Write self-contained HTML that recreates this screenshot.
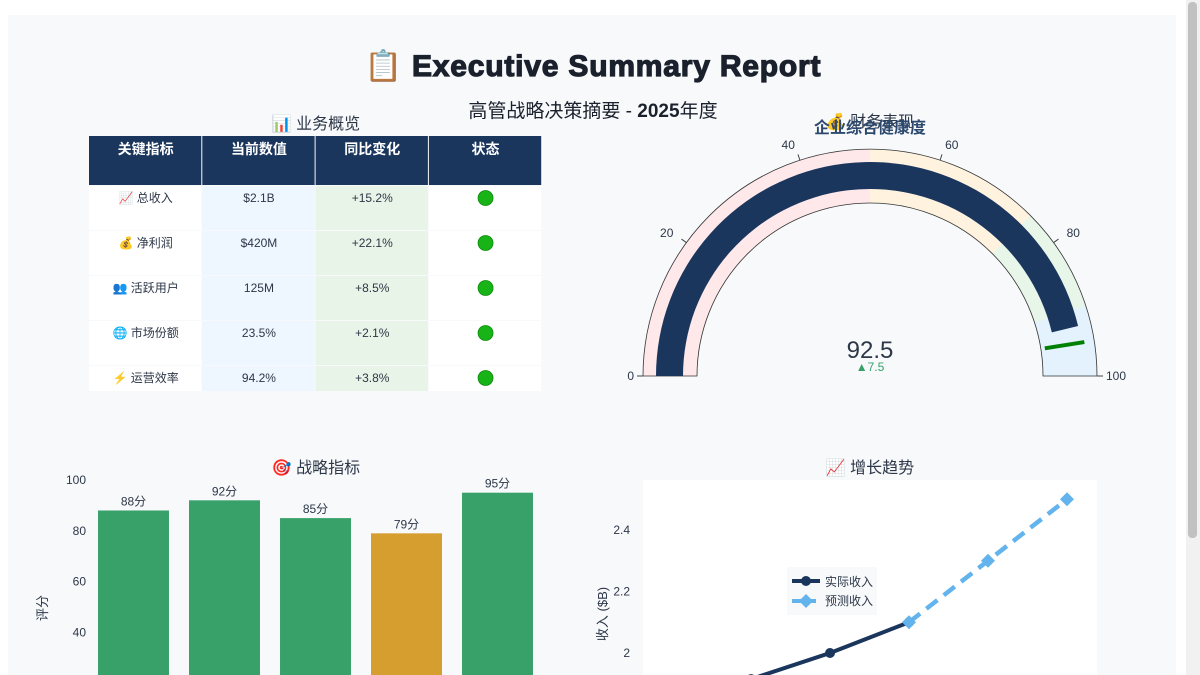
<!DOCTYPE html>
<html><head><meta charset="utf-8"><style>
html,body{margin:0;padding:0;background:#fff;width:1200px;height:675px;overflow:hidden}
svg{display:block;font-family:"Liberation Sans","Noto Sans CJK SC",sans-serif}
</style></head><body>
<svg id="s" width="1200" height="675">
<rect x="8" y="15" width="1168" height="660" fill="#f7f9fb"/>
<rect x="1186" y="0" width="14" height="675" fill="#f1f1f1"/>
<rect x="1188" y="2" width="9" height="536" rx="4" fill="#c1c1c1"/>
<text x="593" y="76" text-anchor="middle" font-size="30" font-weight="bold" fill="#1a202c" stroke="#1a202c" stroke-width="1.2" letter-spacing="0.8">📋 Executive Summary Report</text>
<text x="593" y="117" text-anchor="middle" font-size="19" fill="#1a202c">高管战略决策摘要 - <tspan font-weight="bold">2025</tspan>年度</text>
<text x="316" y="129" text-anchor="middle" font-size="16" fill="#2d3748">📊 业务概览</text>
<g id="tbl"></g>
<text x="870" y="127" text-anchor="middle" font-size="16" fill="#2d3748">💰 财务表现</text>
<text x="870" y="133" text-anchor="middle" font-size="16" font-weight="bold" fill="#2d4a6e">企业综合健康度</text>
<g id="gauge"></g>
<text x="316" y="473" text-anchor="middle" font-size="16" fill="#2d3748">🎯 战略指标</text>
<g id="bars"></g>
<text x="870" y="473" text-anchor="middle" font-size="16" fill="#2d3748">📈 增长趋势</text>
<g id="line"></g>
</svg>
<script>
const NS="http://www.w3.org/2000/svg";
function mk(p,t,a,txt){const e=document.createElementNS(NS,t);for(const k in a)e.setAttribute(k,a[k]);if(txt!=null)e.textContent=txt;p.appendChild(e);return e;}

// ---- table data
const tblHeaders=["关键指标","当前数值","同比变化","状态"];
const tblMetrics=["📈 总收入","💰 净利润","👥 活跃用户","🌐 市场份额","⚡ 运营效率"];
const tblValues=["$2.1B","$420M","125M","23.5%","94.2%"];
const tblChanges=["+15.2%","+22.1%","+8.5%","+2.1%","+3.8%"];

// ---- gauge data
const gaugeValue=92.5, gaugeDelta=7.5, gaugeThreshold=95;
const gaugeSteps=[[0,50,"#ffe8ea"],[50,75,"#fff3e0"],[75,90,"#e8f5e9"],[90,100,"#e3f2fd"]];
const gaugeTicks=[0,20,40,60,80,100];

// ---- bar data
const barCats=["A","B","C","D","E"];
const barValues=[88,92,85,79,95];
const barColors=["#38a169","#38a169","#38a169","#d69e2e","#38a169"];
const barTicks=[40,60,80,100];

// ---- line data
const lineActual=[1.915,2.0,2.1];
const lineActualIdx=[3,4,5];
const lineForecastIdx=[5,6,7];
const lineForecast=[2.1,2.3,2.5];
const lineTicks=[2,2.2,2.4];

// table
(function(){
 const g=document.getElementById('tbl');
 const x0=89,cw=113.3,hy=136,hh=49,rh=45;
 tblHeaders.forEach((h,i)=>{
  const r=mk(g,'rect',{x:x0+i*cw,y:hy,width:cw-1,height:hh,fill:'#1a365d'});
  
  
  const t=mk(g,'text',{x:x0+i*cw+cw/2,y:hy+18,'text-anchor':'middle','font-size':14,'font-weight':'bold',fill:'#fff'},h);
  
  
 });
 const fills=['#ffffff','#eef6ff','#e8f4e8','#ffffff'];
 tblMetrics.forEach((m,j)=>{
  const y=hy+hh+j*rh;
  const h=Math.min(rh-1,390-y);
  const cells=[m,tblValues[j],tblChanges[j],null];
  cells.forEach((c,i)=>{
   const r=mk(g,'rect',{x:x0+i*cw,y:y+1,width:cw-1,height:h,fill:fills[i]});
   
   
   if(c!=null){
    const t=mk(g,'text',{x:x0+i*cw+cw/2,y:y+17,'text-anchor':'middle','font-size':12,fill:'#2d3748'},c);
    
    
   } else {
    const d=mk(g,'circle',{cx:x0+i*cw+cw/2,cy:y+13,r:7.5,fill:'#17b317',stroke:'#0d8a0d','stroke-width':0.8});
    
    
   }
  });
 });
})();

// gauge
(function(){
 const g=document.getElementById('gauge');
 const cx=870,cy=376,R=227,ri=173,b1=187,b2=214;
 const pt=(v,r)=>{const a=Math.PI*(1-v/100);return [cx+r*Math.cos(a),cy-r*Math.sin(a)];};
 const arc=(v0,v1,r0,r1)=>{const a=pt(v0,r1),b=pt(v1,r1),c=pt(v1,r0),d=pt(v0,r0);
  return `M${a[0]},${a[1]} A${r1},${r1} 0 0 1 ${b[0]},${b[1]} L${c[0]},${c[1]} A${r0},${r0} 0 0 0 ${d[0]},${d[1]} Z`;};
 gaugeSteps.forEach(s=>{
  const p=mk(g,'path',{d:arc(s[0],s[1],ri,R),fill:s[2]});
  
  
 });
 const o=mk(g,'path',{d:arc(0,100,ri,R),fill:'none',stroke:'#333','stroke-width':0.8});
 
 
 const b=mk(g,'path',{d:arc(0,gaugeValue,b1,b2),fill:'#1a365d'});
 
 
 const t0=pt(gaugeThreshold,ri+4),t1=pt(gaugeThreshold,R-10);
 const th=mk(g,'line',{x1:t0[0],y1:t0[1],x2:t1[0],y2:t1[1],stroke:'#008000','stroke-width':4});
 
 
 gaugeTicks.forEach(v=>{
  const a=pt(v,R),c=pt(v,R+6),l=pt(v,R+16);
  const tk=mk(g,'line',{x1:a[0],y1:a[1],x2:c[0],y2:c[1],stroke:'#444','stroke-width':1});
  
  
  const anc=v<50?'end':v>50?'start':'middle';
  const tl=mk(g,'text',{x:v==0?a[0]-9:v==100?a[0]+9:l[0],y:l[1]+4,'text-anchor':anc,'font-size':12,fill:'#2d3748'},String(v));
  
  
 });
 const vt=mk(g,'text',{x:cx,y:358,'text-anchor':'middle','font-size':24,fill:'#2d3748'},String(gaugeValue));
 
 
 const dt=mk(g,'text',{x:cx,y:371,'text-anchor':'middle','font-size':12,fill:'#38a169'},'▲'+gaugeDelta);
 
 
})();

// bars
(function(){
 const g=document.getElementById('bars');
 const X0=88,X1=543;
 const yy=v=>480+(100-v)*2.54;
 const band=(X1-X0)/barCats.length;
 barTicks.forEach(v=>{
  const t=mk(g,'text',{x:86,y:yy(v)+4,'text-anchor':'end','font-size':12,fill:'#2d3748'},String(v));
  
  
 });
 const yt=mk(g,'text',{x:47,y:608,'text-anchor':'middle','font-size':13,fill:'#2d3748',transform:'rotate(-90 47 608)'},'评分');
 
 
 barValues.forEach((v,i)=>{
  const w=band*0.78,x=X0+band*i+(band-w)/2,top=yy(v);
  const r=mk(g,'rect',{x:x,y:top,width:w,height:675-top,fill:barColors[i]});
  
  
  const l=mk(g,'text',{x:x+w/2,y:top-5,'text-anchor':'middle','font-size':12,fill:'#2d3748'},v+'分');
  
  
 });
})();

// line
(function(){
 const g=document.getElementById('line');
 const bg=mk(g,'rect',{x:643,y:480,width:454,height:195,fill:'#fff'});
 
 
 const xp=i=>751+(i-3)*79;
 const yp=v=>653-(v-2)*307.5;
 lineTicks.forEach(v=>{
  const t=mk(g,'text',{x:630,y:yp(v)+4,'text-anchor':'end','font-size':12,fill:'#2d3748'},String(v));
  
  
 });
 const yt=mk(g,'text',{x:607,y:614,'text-anchor':'middle','font-size':13,fill:'#2d3748',transform:'rotate(-90 607 614)'},'收入 ($B)');
 
 
 const ap=lineActual.map((v,i)=>xp(lineActualIdx[i])+','+yp(v)).join(' ');
 const fp=lineForecast.map((v,i)=>xp(lineForecastIdx[i])+','+yp(v)).join(' ');
 const al=mk(g,'polyline',{points:ap,fill:'none',stroke:'#1a365d','stroke-width':4});
 
 
 const fl=mk(g,'polyline',{points:fp,fill:'none',stroke:'#63b3ed','stroke-width':4.5,'stroke-dasharray':'14,8'});
 
 
 lineActual.forEach((v,i)=>{
  const c=mk(g,'circle',{cx:xp(lineActualIdx[i]),cy:yp(v),r:5,fill:'#1a365d'});
  
  
 });
 lineForecast.forEach((v,i)=>{
  const x=xp(lineForecastIdx[i]),y=yp(v);
  const d=mk(g,'path',{d:`M${x},${y-7}L${x+7},${y}L${x},${y+7}L${x-7},${y}Z`,fill:'#63b3ed'});
  
  
 });
 const lg=mk(g,'g',{});
 
 
 mk(lg,'rect',{x:787,y:567,width:90,height:48,fill:'#f7f9fb'});
 mk(lg,'line',{x1:792,y1:581,x2:820,y2:581,stroke:'#1a365d','stroke-width':4});
 mk(lg,'circle',{cx:806,cy:581,r:5,fill:'#1a365d'});
 const t1=mk(lg,'text',{x:825,y:586,'font-size':12,fill:'#2d3748'},'实际收入');
 
 
 mk(lg,'line',{x1:792,y1:601,x2:820,y2:601,stroke:'#63b3ed','stroke-width':4,'stroke-dasharray':'10,4'});
 mk(lg,'path',{d:'M806,594L813,601L806,608L799,601Z',fill:'#63b3ed'});
 const t2=mk(lg,'text',{x:825,y:605,'font-size':12,fill:'#2d3748'},'预测收入');
 
 
})();
</script>
</body></html>
